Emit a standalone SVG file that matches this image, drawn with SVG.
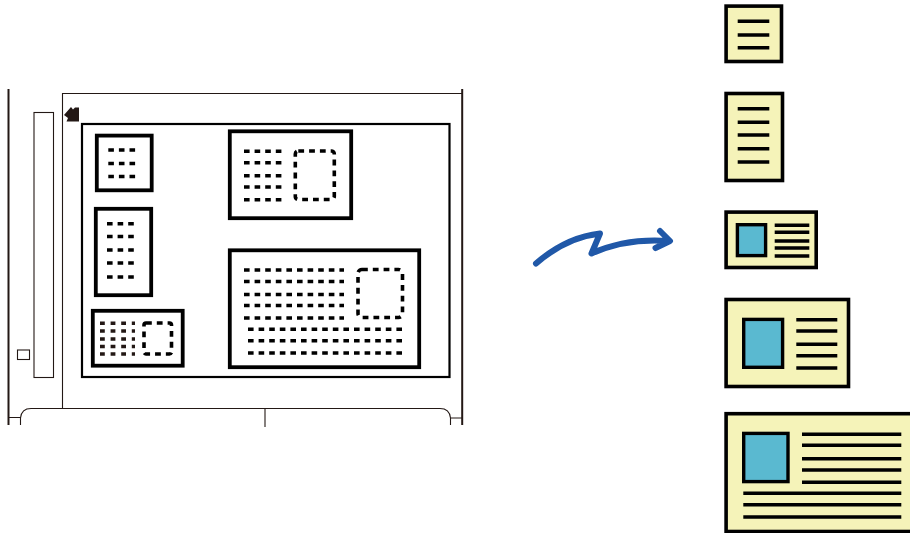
<svg xmlns="http://www.w3.org/2000/svg" width="910" height="533" viewBox="0 0 910 533">
<defs>
<style>
.thin{fill:none;stroke:#231815;stroke-width:1.1}
.frame{fill:none;stroke:#231815;stroke-width:2}
.inner{fill:#fff;stroke:#000;stroke-width:2.2}
.sheet{fill:#fff;stroke:#000;stroke-width:3.8}
.dots{fill:none;stroke:#000;stroke-width:3.4;stroke-dasharray:5.6 5}
.fine{fill:none;stroke:#231815;stroke-width:3.4;stroke-dasharray:4.8 5.8}
.box{fill:none;stroke:#000;stroke-width:3.6;stroke-dasharray:5.8 5;stroke-linejoin:round}
.card{fill:#f5f3b9;stroke:#000;stroke-width:3.6}
.photo{fill:#5ab9d0;stroke:#000;stroke-width:3.4}
.ln{fill:none;stroke:#000;stroke-width:3.4}
</style>
</defs>
<g id="scanner">
<path class="frame" d="M8.500 89V425M462.200 89V425"/>
<path class="thin" d="M62.500 408.500V93.500H462"/>
<rect class="thin" x="34" y="112.500" width="19.500" height="265"/>
<rect class="thin" x="17.500" y="350" width="12" height="9.500"/>
<path class="thin" d="M8.500 417.500H20.500M20.500 425V418Q21.500 408.500 31 408.500H440Q449.500 408.500 450.500 418V425M450.500 418H462M265 408.500V427"/>
<path id="corner-mark" fill="#231815" d="M64 115L71 107L73 109.500L75 107.500H79V121.500H66.500L68 118Z"/>
<rect class="inner" x="82" y="124" width="367.500" height="253"/>
</g>
<g id="sheet-1">
<rect class="sheet" x="96.800" y="135.600" width="54.900" height="54.700"/>
<path class="dots" d="M108.300 150H135.500M108.300 163.500H135.500M108.300 176.500H135.500"/>
</g>
<g id="sheet-2">
<rect class="sheet" x="95.800" y="208.800" width="55.400" height="86.400"/>
<path class="dots" d="M107 223.700H134.200M107 236.500H134.200M107 250H134.200M107 263H134.200M107 277H134.200"/>
</g>
<g id="sheet-3">
<rect class="sheet" x="92.800" y="310.800" width="89.900" height="54.900"/>
<path class="fine" d="M100 323.300H135M100 331H135M100 339H135M100 346.500H135M100 354H135"/>
<rect class="box" x="144" y="323" width="27.500" height="31" rx="2"/>
</g>
<g id="sheet-4">
<rect class="sheet" x="229.800" y="131.300" width="121.400" height="86.900"/>
<path class="dots" d="M244 151.300H282M244 162.700H282M244 175.700H282M244 187H282M244 199.700H282"/>
<rect class="box" x="295.300" y="151" width="39" height="48.500" rx="3"/>
</g>
<g id="sheet-5">
<rect class="sheet" x="229.800" y="250.300" width="189.400" height="116.900"/>
<path class="dots" d="M244 270H344M244 281.500H344M244 294.500H344M244 305.500H344M244 318H344M248 329.300H403.300M248 340.700H403.300M248 353H403.300"/>
<rect class="box" x="358" y="269.500" width="44.500" height="48" rx="4"/>
</g>
<g id="connectors">
<path fill="none" stroke="#2058a8" stroke-width="6" stroke-linecap="round" stroke-linejoin="round" d="M536 263.500C555 247 578 236 600 233.500L591.500 253.500C615 243 640 239 668 241M660 231L670 241L655.500 248"/>
</g>
<g id="result-1">
<rect class="card" x="726.100" y="6.100" width="55.400" height="55.400"/>
<path class="ln" d="M737.700 21.300H769.300M737.700 35H769.300M737.700 47.700H769.300"/>
</g>
<g id="result-2">
<rect class="card" x="726.100" y="93.500" width="56.400" height="87"/>
<path class="ln" d="M737.700 108.700H769.300M737.700 122.300H769.300M737.700 135H769.300M737.700 148.700H769.300M737.700 162H769.300"/>
</g>
<g id="result-3">
<rect class="card" x="726.100" y="212.100" width="90.100" height="55.400"/>
<rect class="photo" x="737.400" y="224.700" width="28.200" height="30.900"/>
<path class="ln" d="M774.700 225.300H809.300M774.700 232.300H809.300M774.700 241H809.300M774.700 248H809.300M774.700 256H809.300"/>
</g>
<g id="result-4">
<rect class="card" x="726.100" y="299.500" width="122.400" height="87"/>
<rect class="photo" x="743.700" y="319.400" width="38.900" height="47.900"/>
<path class="ln" d="M796.300 319.700H837.300M796.300 331H837.300M796.300 344.300H837.300M796.300 355.700H837.300M796.300 368H837.300"/>
</g>
<g id="result-5">
<rect class="card" x="726.100" y="413.700" width="190" height="117.800"/>
<rect class="photo" x="743.700" y="433.400" width="44.300" height="48.200"/>
<path class="ln" d="M802 434.300H901.300M802 445.300H901.300M802 458.700H901.300M802 470H901.300M802 482.300H901.300M743.300 493.300H901.300M743.300 504.700H901.300M743.300 517H901.300"/>
</g>
</svg>
